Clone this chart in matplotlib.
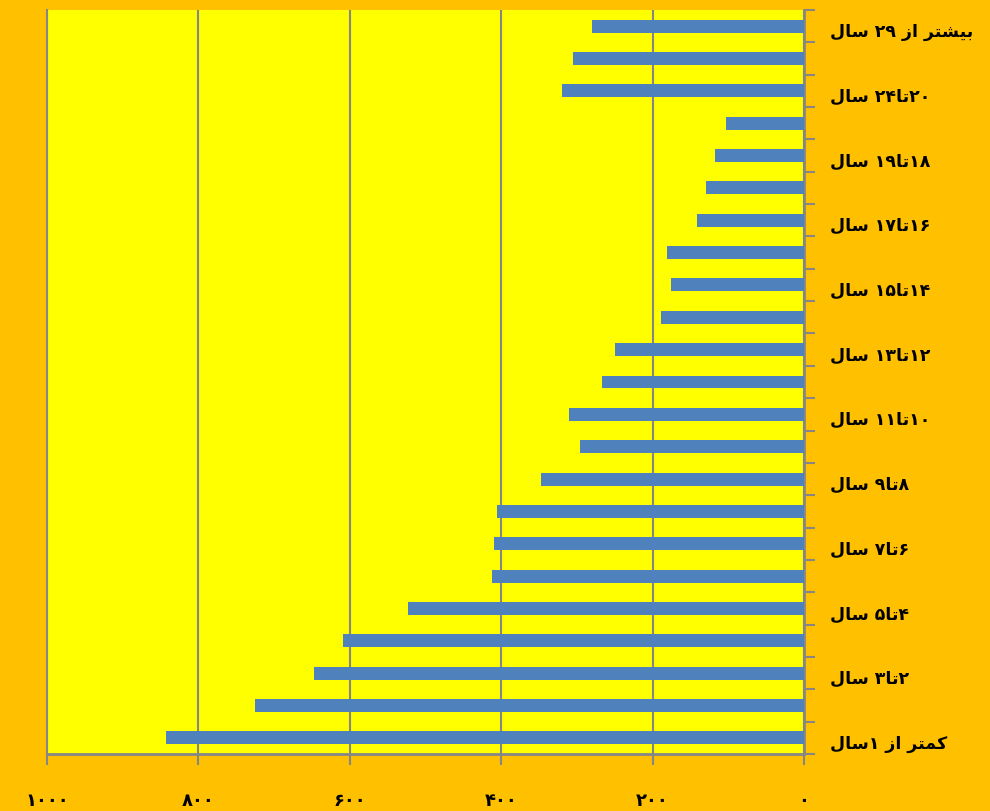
import matplotlib
matplotlib.use("Agg")
import matplotlib.pyplot as plt
from matplotlib.ticker import FixedLocator, NullFormatter
import matplotlib.transforms as mtransforms

# ---- data (bottom to top) ----
values = [843, 725, 647, 609, 523, 412, 410, 406, 347, 296, 310, 267,
          250, 189, 176, 181, 141, 129, 118, 103, 320, 305, 280]
label_positions = [0, 2, 4, 6, 8, 10, 12, 14, 16, 18, 20, 22]
labels = ["کمتر از ۱سال", "۲تا۳ سال", "۴تا۵ سال", "۶تا۷ سال", "۸تا۹ سال",
          "۱۰تا۱۱ سال", "۱۲تا۱۳ سال", "۱۴تا۱۵ سال", "۱۶تا۱۷ سال",
          "۱۸تا۱۹ سال", "۲۰تا۲۴ سال", "بیشتر از ۲۹ سال"]
xticks = [0, 200, 400, 600, 800, 1000]

# ---- minimal Persian shaping + bidi (matplotlib has no complex text layout) ----
FORMS = {  # iso, fin, ini, med  (None for ini/med => right-joining only)
    "ب": ("\uFE8F", "\uFE90", "\uFE91", "\uFE92"),
    "ی": ("\uFBFC", "\uFBFD", "\uFBFE", "\uFBFF"),
    "ش": ("\uFEB5", "\uFEB6", "\uFEB7", "\uFEB8"),
    "ت": ("\uFE95", "\uFE96", "\uFE97", "\uFE98"),
    "ر": ("\uFEAD", "\uFEAE", None, None),
    "ا": ("\uFE8D", "\uFE8E", None, None),
    "ز": ("\uFEAF", "\uFEB0", None, None),
    "س": ("\uFEB1", "\uFEB2", "\uFEB3", "\uFEB4"),
    "ل": ("\uFEDD", "\uFEDE", "\uFEDF", "\uFEE0"),
    "ک": ("\uFB8E", "\uFB8F", "\uFB90", "\uFB91"),
    "م": ("\uFEE1", "\uFEE2", "\uFEE3", "\uFEE4"),
}


def joins_next(c):
    return c in FORMS and FORMS[c][2] is not None


def shape(s):
    out = []
    for i, c in enumerate(s):
        if c not in FORMS:
            out.append(c)
            continue
        prev_j = i > 0 and joins_next(s[i - 1])
        next_j = joins_next(c) and i + 1 < len(s) and s[i + 1] in FORMS
        f = FORMS[c]
        if prev_j and next_j:
            out.append(f[3])
        elif prev_j:
            out.append(f[1])
        elif next_j:
            out.append(f[2])
        else:
            out.append(f[0])
    shaped = "".join(out)
    # visual order: reverse, but keep digit runs left-to-right
    rev = shaped[::-1]
    res, run = [], []
    for c in rev:
        if "\u06F0" <= c <= "\u06F9":
            run.append(c)
        else:
            if run:
                res.extend(run[::-1]); run = []
            res.append(c)
    if run:
        res.extend(run[::-1])
    return "".join(res)


def fa_digits(n):
    return "".join(chr(0x06F0 + int(d)) for d in str(n))


plt.rcParams["font.family"] = ["DejaVu Sans"]

fig = plt.figure(figsize=(9.9, 8.11), dpi=100, facecolor="#FFC000")
ax = fig.add_axes([47 / 990, 57 / 811, (804 - 47) / 990, (754 - 10) / 811])
ax.set_facecolor("#FFFF00")

ypos = list(range(len(values)))
ax.barh(ypos, values, height=0.4, color="#4F81BD", zorder=3)

ax.set_xlim(1000, 0)
ax.set_ylim(-0.5, len(values) - 0.5)

grid_c = "#868686"
ax.set_xticks(xticks)
ax.set_xticklabels([fa_digits(v) for v in xticks], fontsize=13, fontweight="bold")
ax.xaxis.grid(True, color=grid_c, linewidth=1.5, zorder=1)
ax.tick_params(axis="x", length=8, width=1.5, color=grid_c, pad=19, direction="out")

ax.yaxis.tick_right()
ax.yaxis.set_major_locator(FixedLocator([i - 0.5 for i in range(len(values) + 1)]))
ax.yaxis.set_major_formatter(NullFormatter())
ax.yaxis.set_minor_locator(FixedLocator(label_positions))
ax.set_yticklabels([shape(l) for l in labels], minor=True, fontsize=12.5, fontweight="bold")
ax.tick_params(axis="y", which="major", length=8, width=1.5, color=grid_c, direction="out")
ax.tick_params(axis="y", which="minor", length=0, pad=19)
offset = mtransforms.ScaledTranslation(0, -4 / 100, fig.dpi_scale_trans)
for lab in ax.yaxis.get_minorticklabels():
    lab.set_transform(lab.get_transform() + offset)

ax.spines["top"].set_visible(False)
ax.spines["right"].set_color(grid_c)
ax.spines["right"].set_linewidth(2)
ax.spines["bottom"].set_color(grid_c)
ax.spines["bottom"].set_linewidth(2)
ax.spines["left"].set_color(grid_c)
ax.spines["left"].set_linewidth(1.5)

fig.savefig("out.png", dpi=100, facecolor=fig.get_facecolor())
